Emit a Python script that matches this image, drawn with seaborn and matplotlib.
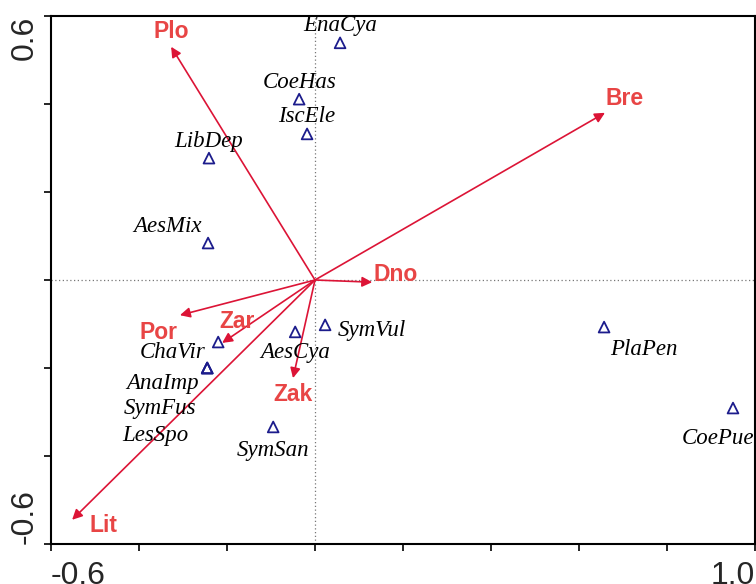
import matplotlib
matplotlib.use("Agg")
import matplotlib.pyplot as plt
import seaborn as sns
import pandas as pd

# species scores (triangles)
species = ["EnaCya", "CoeHas", "IscEle", "LibDep", "AesMix", "ChaVir", "AnaImp",
           "SymFus", "LesSpo", "AesCya", "SymVul", "SymSan", "PlaPen", "CoePue"]
sp_x = [0.057, -0.036, -0.018, -0.241, -0.243, -0.220, -0.245,
        -0.245, -0.245, -0.045, 0.023, -0.095, 0.657, 0.950]
sp_y = [0.539, 0.411, 0.332, 0.277, 0.084, -0.141, -0.200,
        -0.200, -0.200, -0.118, -0.102, -0.334, -0.107, -0.291]

# environmental variables (arrows)
env = ["Plo", "Bre", "Dno", "Por", "Zar", "Zak", "Lit"]
env_x = [-0.327, 0.659, 0.130, -0.307, -0.211, -0.050, -0.552]
env_y = [0.530, 0.380, -0.005, -0.080, -0.143, -0.223, -0.545]

# label offsets in pixels (layout only)
sp_off = {"EnaCya": (0, 17), "CoeHas": (0, 17), "IscEle": (0, 17), "LibDep": (0, 17),
          "AesMix": (-41, 17), "ChaVir": (-46, -10), "AnaImp": (-45, -15),
          "SymFus": (-47, -40), "LesSpo": (-52, -67), "AesCya": (0, -21),
          "SymVul": (47, -6), "SymSan": (0, -24), "PlaPen": (40, -22),
          "CoePue": (-15, -30)}
env_off = {"Plo": (0, 15), "Bre": (20, 14), "Dno": (23, 8), "Por": (-21, -17),
           "Zar": (15, 21), "Zak": (0, -16), "Lit": (31, -6)}

sp_df = pd.DataFrame({"name": species, "x": sp_x, "y": sp_y})

sns.set_style("white")
plt.rcParams["font.family"] = ["Liberation Sans", "DejaVu Sans"]

fig = plt.figure(figsize=(7.56, 5.84), dpi=100)
ax = fig.add_axes([51 / 756, 40 / 584, 704 / 756, 528 / 584])

arrow_col = "#dc1436"
label_col = "#e84545"
tri_col = "#1c1c8c"

ax.axhline(0, color="#777777", lw=0.9, ls=(0, (1, 2)), zorder=1)
ax.axvline(0, color="#777777", lw=0.9, ls=(0, (1, 2)), zorder=1)

for name, x, y in zip(env, env_x, env_y):
    ax.annotate("", xy=(x, y), xytext=(0, 0),
                arrowprops=dict(arrowstyle="-|>", color=arrow_col, lw=1.2,
                                mutation_scale=15, shrinkA=0, shrinkB=0),
                zorder=3)
    ax.annotate(name, xy=(x, y), xytext=env_off[name], textcoords="offset pixels",
                ha="center", va="center", color=label_col, fontsize=16.5,
                fontweight="bold", zorder=4)

sns.scatterplot(data=sp_df, x="x", y="y", marker="^", s=60, color=tri_col,
                facecolor="none", edgecolor=tri_col, linewidth=1.3, ax=ax,
                legend=False, zorder=5)

for name, x, y in zip(species, sp_x, sp_y):
    ax.annotate(name, xy=(x, y), xytext=sp_off[name], textcoords="offset pixels",
                ha="center", va="center", fontsize=16.5, style="italic",
                family=["Liberation Serif", "DejaVu Serif"], color="black", zorder=6)

ax.set_xlim(-0.6, 1.0)
ax.set_ylim(-0.6, 0.6)
xt = [-0.6 + 0.2 * i for i in range(9)]
yt = [-0.6 + 0.2 * i for i in range(7)]
ax.set_xticks(xt)
ax.set_yticks(yt)
ax.set_xticklabels(["-0.6"] + [""] * 7 + ["1.0"], fontsize=23)
ax.set_yticklabels(["-0.6"] + [""] * 5 + ["0.6"], fontsize=23, rotation=90)
xl = ax.get_xticklabels()
xl[0].set_ha("left")
xl[-1].set_ha("right")
yl = ax.get_yticklabels()
yl[0].set_va("bottom")
yl[-1].set_va("top")
for t in yl:
    t.set_ha("right")
ax.tick_params(axis="both", direction="out", length=5, width=1.2, color="black",
               left=True, bottom=True)
ax.tick_params(axis="x", pad=7)
ax.tick_params(axis="y", pad=3)
ax.set_xlabel("")
ax.set_ylabel("")
for s in ax.spines.values():
    s.set_color("black")
    s.set_linewidth(1.5)

fig.savefig("out.png", dpi=100)
